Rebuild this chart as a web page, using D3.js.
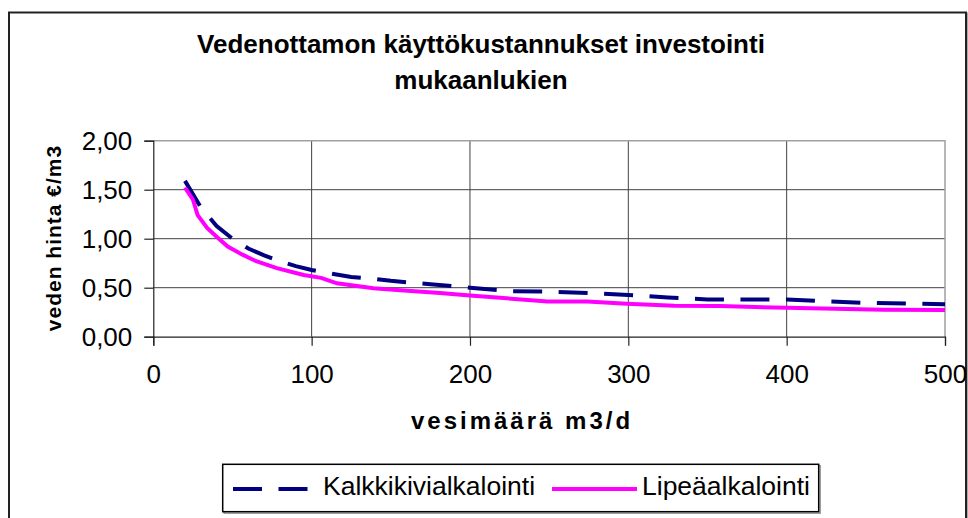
<html>
	<head>
		<meta charset="utf-8">
		<style>
			body { margin: 0; background: #fff; }
			text { font-family: "Liberation Sans", Arial, sans-serif; fill: #000; }
			.title { font-size: 26px; font-weight: bold; }
			.axislabel { font-weight: bold; }
			.tick text { font-size: 26px; }
			.legendtext { font-size: 26.5px; }
		</style>
		<script src="https://d3js.org/d3.v7.min.js"></script>
	</head>
	<body>
		<svg width="968" height="518"></svg>
		<script>
			// chart texts
			const titleLines = ["Vedenottamon käyttökustannukset investointi", "mukaanlukien"];
			const xTitle = "vesimäärä m3/d";
			const yTitle = "veden hinta €/m3";
			const seriesNames = ["Kalkkikivialkalointi", "Lipeäalkalointi"];

			// ticks
			const xTicks = [0, 100, 200, 300, 400, 500];
			const yTicks = [0, 0.5, 1.0, 1.5, 2.0];

			// series values
			const kalkkiX = [20, 30, 40, 50, 60, 70, 80, 90, 100, 110, 125, 140, 150, 175, 200, 225, 250, 275, 300, 325, 350, 400, 425, 450, 475, 500];
			const kalkkiY = [1.59, 1.32, 1.13, 1.00, 0.90, 0.83, 0.77, 0.72, 0.68, 0.65, 0.61, 0.59, 0.57, 0.535, 0.50, 0.465, 0.46, 0.445, 0.425, 0.40, 0.38, 0.38, 0.36, 0.345, 0.34, 0.33];

			const lipeaX = [20, 25, 28, 34, 40, 47, 56, 65, 78, 95, 106, 116, 139, 156, 181, 200, 249, 274, 299, 329, 358, 400, 461, 500];
			const lipeaY = [1.52, 1.40, 1.24, 1.11, 1.02, 0.92, 0.84, 0.77, 0.70, 0.63, 0.60, 0.545, 0.495, 0.475, 0.445, 0.42, 0.36, 0.36, 0.335, 0.315, 0.313, 0.295, 0.275, 0.272];

			const seriesColors = ["#000080", "#ff00ff"];

			var svg = d3.select("svg");

			const plot = {left: 153.3, right: 945, top: 140.7, bottom: 336.7};

			var xs = d3.scaleLinear().domain([0, 500]).range([plot.left, plot.right]);
			var ys = d3.scaleLinear().domain([0, 2]).range([plot.bottom, plot.top]);

			// outer frame
			svg.append("rect")
				.attr("x", 10).attr("y", 13.5)
				.attr("width", 957.5).attr("height", 520)
				.attr("fill", "none").attr("stroke", "#aaa").attr("stroke-width", 2);
			svg.append("rect")
				.attr("x", 9).attr("y", 12.5)
				.attr("width", 957).attr("height", 520)
				.attr("fill", "#fff").attr("stroke", "#222").attr("stroke-width", 2);

			// title
			svg.append("text")
				.attr("class", "title")
				.attr("text-anchor", "middle")
				.selectAll("tspan")
				.data(titleLines)
				.enter().append("tspan")
				.attr("x", 481)
				.attr("y", (d, i) => 53 + i * 36)
				.text(d => d);

			// grid lines
			svg.append("g")
				.selectAll("line")
				.data(yTicks.filter(d => d > 0 && d < 2))
				.enter().append("line")
				.attr("x1", plot.left).attr("x2", plot.right)
				.attr("y1", d => ys(d)).attr("y2", d => ys(d))
				.attr("stroke", "#404040").attr("stroke-width", 1);

			svg.append("g")
				.selectAll("line")
				.data(xTicks.filter(d => d > 0 && d < 500))
				.enter().append("line")
				.attr("x1", d => xs(d)).attr("x2", d => xs(d))
				.attr("y1", plot.top).attr("y2", plot.bottom)
				.attr("stroke", "#404040").attr("stroke-width", 1);

			// plot border top / right
			svg.append("path")
				.attr("d", "M" + plot.left + "," + ys(2) + "H" + xs(500) + "V" + plot.bottom)
				.attr("fill", "none").attr("stroke", "#a0a0a0").attr("stroke-width", 1.5);

			// axes
			svg.append("g")
				.attr("transform", "translate(" + plot.left + ",0)")
				.call(d3.axisLeft(ys)
					.tickValues(yTicks)
					.tickSize(9)
					.tickPadding(12)
					.tickFormat(d => d.toFixed(2).replace(".", ",")))
				.call(g => g.selectAll("path, line").attr("stroke", "#222").attr("stroke-width", 1.2))
				.call(g => g.selectAll("text").attr("font-family", null).attr("font-size", null));

			svg.append("g")
				.attr("transform", "translate(0," + plot.bottom + ")")
				.call(d3.axisBottom(xs)
					.tickValues(xTicks)
					.tickSize(9)
					.tickPadding(19)
					.tickFormat(d3.format("d")))
				.call(g => g.selectAll("path, line").attr("stroke", "#222").attr("stroke-width", 1.2))
				.call(g => g.selectAll("text").attr("font-family", null).attr("font-size", null));

			// axis titles
			svg.append("text")
				.attr("class", "axislabel")
				.attr("text-anchor", "middle")
				.attr("x", 522).attr("y", 429)
				.style("font-size", "24px")
				.style("letter-spacing", "3px")
				.text(xTitle);

			svg.append("text")
				.attr("class", "axislabel")
				.attr("text-anchor", "middle")
				.attr("transform", "translate(61,238) rotate(-90)")
				.style("font-size", "21px")
				.style("letter-spacing", "1px")
				.text(yTitle);

			// lines
			const line = d3.line()
				.x(d => xs(d[0]))
				.y(d => ys(d[1]));

			const data = [
				{"id": seriesNames[0], "values": kalkkiX.map((x, i) => [x, kalkkiY[i]]), "dash": "29,16.5"},
				{"id": seriesNames[1], "values": lipeaX.map((x, i) => [x, lipeaY[i]]), "dash": null}
			];

			svg.append("g")
				.selectAll("path")
				.data(data)
				.enter().append("path")
				.attr("d", d => line(d.values))
				.attr("fill", "none")
				.attr("stroke", (d, i) => seriesColors[i])
				.attr("stroke-width", 4)
				.attr("stroke-dasharray", d => d.dash);

			// legend
			svg.append("rect")
				.attr("x", 224.2).attr("y", 465.8)
				.attr("width", 596).attr("height", 47.4)
				.attr("fill", "none").attr("stroke", "#999").attr("stroke-width", 1.5);
			svg.append("rect")
				.attr("x", 222.7).attr("y", 464.3)
				.attr("width", 596).attr("height", 47.4)
				.attr("fill", "#fff").attr("stroke", "#000").attr("stroke-width", 1.5);

			const legendX = [{line: [233, 309], text: 323}, {line: [552, 637], text: 642}];
			const legend = svg.append("g")
				.selectAll("g")
				.data(data)
				.enter().append("g");

			legend.append("line")
				.attr("x1", (d, i) => legendX[i].line[0])
				.attr("x2", (d, i) => legendX[i].line[1])
				.attr("y1", 489).attr("y2", 489)
				.attr("stroke", (d, i) => seriesColors[i])
				.attr("stroke-width", 4)
				.attr("stroke-dasharray", d => d.dash);

			legend.append("text")
				.attr("class", "legendtext")
				.attr("x", (d, i) => legendX[i].text)
				.attr("y", 495)
				.text(d => d.id);
		</script>
	</body>
</html>
